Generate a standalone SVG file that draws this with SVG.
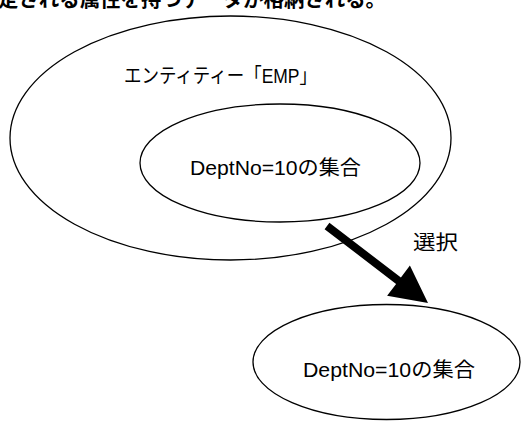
<svg xmlns="http://www.w3.org/2000/svg" width="528" height="422" viewBox="0 0 528 422">
<style>
.e{fill:none;stroke:#000;stroke-width:1.3}
.t{font-family:"Liberation Sans","Noto Sans CJK JP",sans-serif;font-size:20px;fill:#000}
.h{font-family:"Noto Sans CJK JP",sans-serif;font-size:20px;font-weight:bold;fill:#000}
</style>
<rect width="528" height="422" fill="#fff"/>
<text class="h" x="-2" y="7" textLength="388" lengthAdjust="spacingAndGlyphs">定される属性を持つデータが格納される。</text>
<g id="entity">
<ellipse class="e" cx="230.5" cy="138" rx="220.5" ry="122"/>
<text class="t" x="124" y="83" textLength="193" lengthAdjust="spacingAndGlyphs">エンティティー「EMP」</text>
</g>
<g id="subset">
<ellipse class="e" cx="280" cy="163" rx="140" ry="59"/>
<text class="t" x="190" y="175" textLength="171" lengthAdjust="spacingAndGlyphs">DeptNo=10の集合</text>
</g>
<g id="result">
<ellipse class="e" cx="386.5" cy="362" rx="133.5" ry="57.5"/>
<text class="t" x="303" y="377" textLength="172" lengthAdjust="spacingAndGlyphs">DeptNo=10の集合</text>
</g>
<g id="connectors">
<polygon points="324.6,229.2 329.4,222.8 400.9,277.5 409.9,265.6 428,303 387.1,295.8 396.1,283.9" fill="#000"/>
<text class="t" x="413" y="250" font-size="21" textLength="45" lengthAdjust="spacingAndGlyphs">選択</text>
</g>
</svg>
